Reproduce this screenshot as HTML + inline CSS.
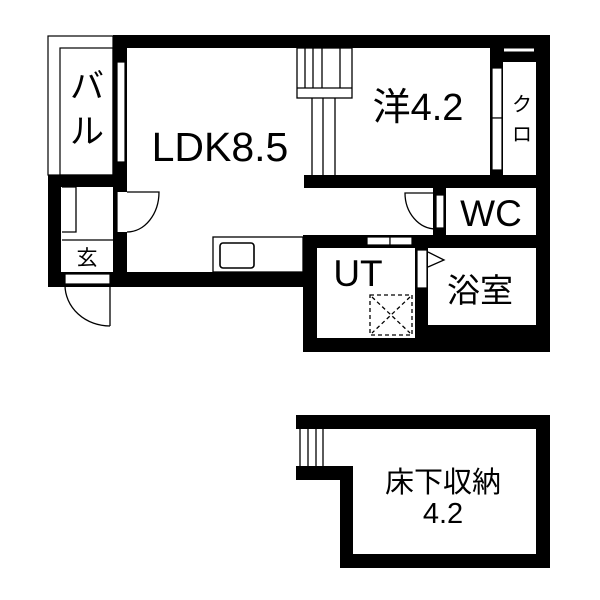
<!DOCTYPE html>
<html><head><meta charset="utf-8"><style>
html,body{margin:0;padding:0;background:#fff;}
svg{display:block;}
text{font-family:"Liberation Sans","Noto Sans CJK JP",sans-serif;fill:#000;}
</style></head><body>
<svg width="600" height="600" viewBox="0 0 600 600" xmlns="http://www.w3.org/2000/svg">
<rect width="600" height="600" fill="#fff"/>
<g fill="#000">
<rect x="113" y="35" width="437" height="13"/>
<rect x="113" y="35" width="14" height="252"/>
<rect x="48" y="175" width="79" height="12"/>
<rect x="48" y="175" width="13" height="112"/>
<rect x="48" y="272" width="269" height="15"/>
<rect x="536" y="35" width="14" height="317"/>
<rect x="304" y="175" width="246" height="13"/>
<rect x="490" y="48" width="13" height="127"/>
<rect x="503" y="48" width="33" height="14"/>
<rect x="433" y="187" width="13" height="48"/>
<rect x="303" y="235" width="247" height="13"/>
<rect x="303" y="235" width="14" height="117"/>
<rect x="303" y="338" width="247" height="14"/>
<rect x="415" y="248" width="13" height="95"/>
<rect x="428" y="325" width="122" height="27"/>
<rect x="296" y="415" width="254" height="14"/>
<rect x="536" y="415" width="14" height="153"/>
<rect x="340" y="554" width="210" height="14"/>
<rect x="340" y="466" width="13" height="102"/>
<rect x="296" y="466" width="57" height="14"/>
</g>
<line x1="504" y1="50" x2="534" y2="50" stroke="#fff" stroke-width="3"/>
<g fill="#fff" stroke="#000" stroke-width="1.2">
<rect x="48" y="36" width="65" height="139" fill="none"/>
<rect x="60" y="48" width="53" height="127" fill="none"/>
<rect x="117" y="62" width="8" height="100"/>
<rect x="117" y="192" width="10" height="40" stroke="none"/>
<line x1="117" y1="192" x2="117" y2="232"/>
<rect x="65" y="274" width="45" height="10"/>
<rect x="492" y="68" width="10" height="50"/>
<rect x="492" y="118" width="10" height="52"/>
<rect x="436" y="195" width="8" height="33"/>
<rect x="367" y="237" width="23" height="8"/>
<rect x="390" y="237" width="22" height="8"/>
<rect x="417" y="250" width="10" height="38"/>
</g>
<g fill="none" stroke="#000" stroke-width="1.3">
<line x1="110" y1="285" x2="110" y2="326"/>
<path d="M65 285 A45 41 0 0 0 110 326"/>
<path d="M127 192 L159 192 A32 40 0 0 1 127 232"/>
<path d="M436 193 L405 193 A31 36 0 0 0 436 229"/>
<path d="M428 252 L444 260 L428 267"/>
<path d="M62 187 H76 V232 H62"/>
<line x1="62" y1="240" x2="113" y2="240"/>
<rect x="213" y="237" width="90" height="35"/>
<rect x="220" y="243" width="34" height="25" rx="3" stroke-width="1.6"/>
<rect x="297" y="48" width="55" height="50"/>
<line x1="305" y1="48" x2="305" y2="88"/>
<line x1="313" y1="48" x2="313" y2="88"/>
<line x1="322" y1="48" x2="322" y2="88"/>
<line x1="340" y1="48" x2="340" y2="88"/>
<line x1="297" y1="88" x2="352" y2="88"/>
<line x1="312" y1="98" x2="312" y2="175"/>
<line x1="323" y1="98" x2="323" y2="175"/>
<line x1="335" y1="98" x2="335" y2="175"/>
<line x1="300" y1="429" x2="300" y2="466"/>
<line x1="308" y1="429" x2="308" y2="466"/>
<line x1="316" y1="429" x2="316" y2="466"/>
<line x1="323" y1="429" x2="323" y2="466"/>
<rect x="370" y="295" width="42" height="40" stroke-dasharray="4,3"/>
<line x1="372" y1="297" x2="410" y2="333" stroke-dasharray="4,3"/>
<line x1="410" y1="297" x2="372" y2="333" stroke-dasharray="4,3"/>
</g>
<text x="220" y="161" font-size="41" text-anchor="middle">LDK8.5</text>
<text x="418" y="120" font-size="38" text-anchor="middle">洋4.2</text>
<text x="491" y="226" font-size="37" text-anchor="middle">WC</text>
<text x="358" y="286" font-size="37" text-anchor="middle">UT</text>
<text x="480" y="302" font-size="33" text-anchor="middle">浴室</text>
<text x="87" y="98" font-size="34" text-anchor="middle">バ</text>
<text x="87" y="143" font-size="34" text-anchor="middle">ル</text>
<text x="87" y="265" font-size="21" text-anchor="middle">玄</text>
<text x="522" y="111" font-size="20" text-anchor="middle">ク</text>
<text x="522" y="141" font-size="20" text-anchor="middle">ロ</text>
<text x="443" y="492" font-size="29" text-anchor="middle">床下収納</text>
<text x="443" y="523" font-size="29" text-anchor="middle">4.2</text>
</svg>
</body></html>
